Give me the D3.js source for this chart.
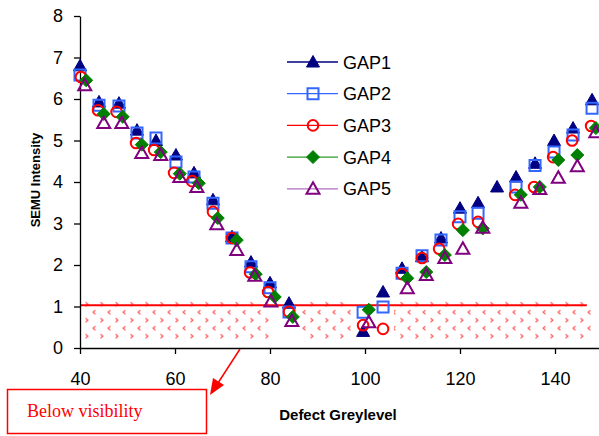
<!DOCTYPE html>
<html>
<head>
<meta charset="utf-8">
<script src="https://cdn.jsdelivr.net/npm/d3@7"></script>
<style>
    body { margin: 0; background: #fff; }
    svg { display: block; font-family: Arial, "Liberation Sans", sans-serif; }
    .axis path, .axis line { stroke: #000; stroke-width: 1.3; }
    .axis text { font-size: 18px; fill: #000; }
</style>
</head>
<body>
<div id="chart"></div>
<script>
const xTicks = [40, 60, 80, 100, 120, 140];
const yTicks = [0, 1, 2, 3, 4, 5, 6, 7, 8];

const seriesNames = ["GAP1", "GAP2", "GAP3", "GAP4", "GAP5"];

const gap1 = [[40, 6.8], [44, 5.93], [48.2, 5.9], [52, 5.25], [56, 5.0], [60.2, 4.65], [64, 4.22], [68, 3.57],
    [72, 2.68], [76, 2.07], [80, 1.57], [84, 1.08], [99.6, 0.4], [103.8, 1.35], [107.8, 1.92], [112, 2.2],
    [116, 2.65], [120, 3.37], [123.8, 3.5], [127.8, 3.88], [131.8, 4.12], [135.8, 4.45], [139.8, 5.0],
    [143.8, 5.3], [147.8, 5.98]];

const gap2 = [[40, 6.58], [44, 5.85], [48.2, 5.83], [52, 5.18], [56, 5.06], [60.2, 4.48], [64, 4.12], [68, 3.49],
    [72, 2.65], [76, 1.96], [80, 1.45], [84, 0.87], [99.6, 0.86], [103.8, 0.99], [107.8, 1.8], [112, 2.22],
    [116, 2.6], [120, 3.16], [123.8, 3.25], [131.8, 3.88], [135.8, 4.4], [139.8, 4.72], [143.8, 5.13],
    [147.8, 5.78]];

const gap3 = [[40.2, 6.53], [43.8, 5.73], [47.7, 5.69], [51.8, 4.94], [55.6, 4.77], [59.8, 4.22], [63.6, 4.02],
    [68, 3.28], [72, 2.65], [75.8, 1.82], [79.6, 1.35], [84, 0.87], [99.6, 0.55], [103.8, 0.46], [107.8, 1.78],
    [112, 2.17], [115.6, 2.39], [119.6, 2.99], [123.8, 3.04], [131.6, 3.69], [135.6, 3.88], [139.6, 4.6],
    [143.6, 5.0], [147.6, 5.35]];

const gap4 = [[41.3, 6.45], [45, 5.64], [49, 5.57], [53, 4.9], [57, 4.72], [61, 4.2], [65, 3.97], [69, 3.13],
    [73, 2.6], [77, 1.78], [81, 1.23], [84.8, 0.75], [100.8, 0.92], [108.9, 1.68], [112.9, 1.83], [116.8, 2.24],
    [120.6, 2.84], [124.8, 2.88], [132.8, 3.69], [136.8, 3.88], [140.7, 4.53], [144.7, 4.65], [148.6, 5.3]];

const gap5 = [[41, 6.33], [45, 5.42], [48.8, 5.42], [53, 4.7], [57, 4.65], [61, 4.12], [64.6, 3.88], [68.8, 2.98],
    [73, 2.36], [76.8, 1.74], [80.2, 1.12], [84.6, 0.65], [100.8, 0.62], [108.9, 1.44], [112.9, 1.76],
    [116.8, 2.17], [120.6, 2.39], [124.8, 2.9], [132.8, 3.5], [136.8, 3.83], [140.7, 4.1], [144.7, 4.38],
    [148.6, 5.2]];

// visibility threshold and hatched band (x ranges of the three hatched pieces)
const thresholdLine = { x0: 40, x1: 146.7, value: 1.03 };
const hatchBand = { y0: 0.15, y1: 1.15 };
const hatchPieces = [[40.6, 80], [86.7, 97.3], [106.1, 148.2]];

const width = 599;
const height = 436;

const STYLES = {
    GAP1: { shape: "triangle", fill: "#000080", stroke: "#000080", line: "#000080" },
    GAP2: { shape: "square", fill: "none", stroke: "#3366ff", line: "#3366ff" },
    GAP3: { shape: "circle", fill: "none", stroke: "#ff0000", line: "#ff0000" },
    GAP4: { shape: "diamond", fill: "#008000", stroke: "#008000", line: "#2f9a2f" },
    GAP5: { shape: "triangle", fill: "none", stroke: "#800080", line: "#b070c0" }
};

function markerPath(shape) {
    if (shape === "triangle") return "M0,-6.5L6.5,5L-6.5,5Z";
    if (shape === "square") return "M-5.5,-5.5H5.5V5.5H-5.5Z";
    return "M0,-6.5L6.5,0L0,6.5L-6.5,0Z";
}

function drawMarker(g, shape, st) {
    if (shape === "circle") {
        g.append("circle").attr("r", 5.3)
            .attr("fill", "none").attr("stroke", st.stroke).attr("stroke-width", 2);
    } else {
        g.append("path").attr("d", markerPath(shape))
            .attr("fill", st.fill).attr("stroke", st.stroke)
            .attr("stroke-width", st.fill === "none" ? 2 : 1)
            .attr("stroke-linejoin", "miter");
    }
}

const svg = d3.select("#chart").append("svg")
    .attr("width", width)
    .attr("height", height);

const x = d3.scaleLinear().domain([40, 150]).range([80, 602.5]);
const y = d3.scaleLinear().domain([0, 8]).range([348, 16]);

// hatch pattern
const defs = svg.append("defs");
const pat = defs.append("pattern")
    .attr("id", "hatch")
    .attr("patternUnits", "userSpaceOnUse")
    .attr("width", 15)
    .attr("height", 16)
    .attr("x", 83)
    .attr("y", y(hatchBand.y1));
pat.append("path").attr("d", "M2.5,2L5,4L2.5,6 M12.5,10L10,12L12.5,14")
    .attr("fill", "none").attr("stroke", "#ff5a5a").attr("stroke-width", 1.2);

svg.append("g").selectAll("rect")
    .data(hatchPieces)
    .enter()
    .append("rect")
    .attr("x", d => x(d[0]))
    .attr("width", d => x(d[1]) - x(d[0]))
    .attr("y", y(hatchBand.y1))
    .attr("height", y(hatchBand.y0) - y(hatchBand.y1))
    .attr("fill", "url(#hatch)");

svg.append("line")
    .attr("x1", x(thresholdLine.x0))
    .attr("x2", x(thresholdLine.x1))
    .attr("y1", y(thresholdLine.value))
    .attr("y2", y(thresholdLine.value))
    .attr("stroke", "#ff0000")
    .attr("stroke-width", 2);

// axes
svg.append("g")
    .attr("class", "axis")
    .attr("transform", "translate(80,0)")
    .call(d3.axisLeft(y).tickValues(yTicks).tickSize(6).tickSizeOuter(0).tickPadding(11));

svg.append("g")
    .attr("class", "axis")
    .attr("transform", "translate(0,348)")
    .call(d3.axisBottom(x).tickValues(xTicks).tickSize(6).tickSizeOuter(0).tickPadding(18));

// points
const allSeries = [gap1, gap2, gap3, gap4, gap5];
allSeries.forEach((data, i) => {
    const name = seriesNames[i];
    const st = STYLES[name];
    svg.append("g").selectAll("g")
        .data(data)
        .enter()
        .append("g")
        .attr("transform", d => `translate(${x(d[0])},${y(d[1])})`)
        .each(function() { drawMarker(d3.select(this), st.shape, st); });
});

// legend
const legend = svg.append("g").attr("transform", "translate(287,62)");
const legendRow = legend.selectAll("g")
    .data(seriesNames)
    .enter()
    .append("g")
    .attr("transform", (_, i) => `translate(0,${i * 31.7})`);

legendRow.append("line")
    .attr("x1", 0).attr("x2", 51)
    .attr("stroke", d => STYLES[d].line)
    .attr("stroke-width", 1.3);

legendRow.append("g")
    .attr("transform", "translate(26,0)")
    .each(function(d) { drawMarker(d3.select(this), STYLES[d].shape, STYLES[d]); });

legendRow.append("text")
    .attr("x", 56)
    .attr("y", 6.5)
    .attr("font-size", 18)
    .text(d => d);

// axis titles
svg.append("text")
    .attr("transform", "translate(40,180) rotate(-90)")
    .attr("text-anchor", "middle")
    .attr("font-size", 13)
    .attr("font-weight", "bold")
    .text("SEMU Intensity");

svg.append("text")
    .attr("x", 338)
    .attr("y", 420)
    .attr("text-anchor", "middle")
    .attr("font-size", 15)
    .attr("font-weight", "bold")
    .text("Defect Greylevel");

// annotation
svg.append("rect")
    .attr("x", 7.5).attr("y", 389.5)
    .attr("width", 199).attr("height", 44)
    .attr("fill", "#fff")
    .attr("stroke", "#ff0000")
    .attr("stroke-width", 1.5);

svg.append("text")
    .attr("x", 27)
    .attr("y", 417)
    .attr("font-family", "'Liberation Serif', 'Times New Roman', serif")
    .attr("font-size", 18)
    .attr("fill", "#ff0000")
    .text("Below visibility");

svg.append("line")
    .attr("x1", 240).attr("y1", 349)
    .attr("x2", 218).attr("y2", 383)
    .attr("stroke", "#ff0000")
    .attr("stroke-width", 1.5);

svg.append("path")
    .attr("d", "M210,395L213,378L224,385Z")
    .attr("fill", "#ff0000");
</script>
</body>
</html>
